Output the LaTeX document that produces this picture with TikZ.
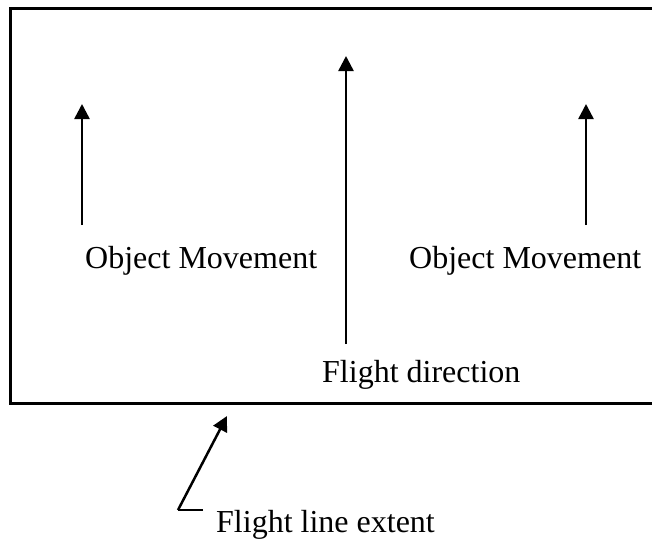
\documentclass[tikz,border=0pt]{standalone}
\usepackage{fontspec}
\setmainfont{Liberation Serif}
\usetikzlibrary{arrows.meta}
\begin{document}
\begin{tikzpicture}[x=1pt,y=-1pt,
  frame/.style={line width=3pt},
  arr/.style={line width=2.5pt,-{Triangle[length=15pt,width=15pt]}},
  plainline/.style={line width=2pt},
  lbl/.style={font=\fontsize{32}{38}\selectfont,anchor=base west,inner sep=0pt}]
\useasboundingbox (0,0) rectangle (652,542);
\draw[frame] (660,8) -- (10.5,8) -- (10.5,403) -- (660,403);
% object movement arrows
\coordinate (l1) at (82,225); \coordinate (l2) at (82,104);
\coordinate (r1) at (586,225); \coordinate (r2) at (586,104);
\coordinate (m1) at (346,344); \coordinate (m2) at (346,56);
\draw[arr] (l1) -- (l2);
\draw[arr] (r1) -- (r2);
\draw[arr] (m1) -- (m2);
\node[lbl] (om1) at (85,268) {Object Movement};
\node[lbl] (om2) at (409,268) {Object Movement};
\node[lbl] (fd) at (322,382) {Flight direction};
\node[lbl] (fle) at (216,532) {Flight line extent};
% leader
\coordinate (h) at (203,510); \coordinate (c) at (178,510); \coordinate (t) at (227,416);
\draw[plainline] (h) -- (c);
\draw[arr] (c) -- (t);
\end{tikzpicture}
\end{document}
